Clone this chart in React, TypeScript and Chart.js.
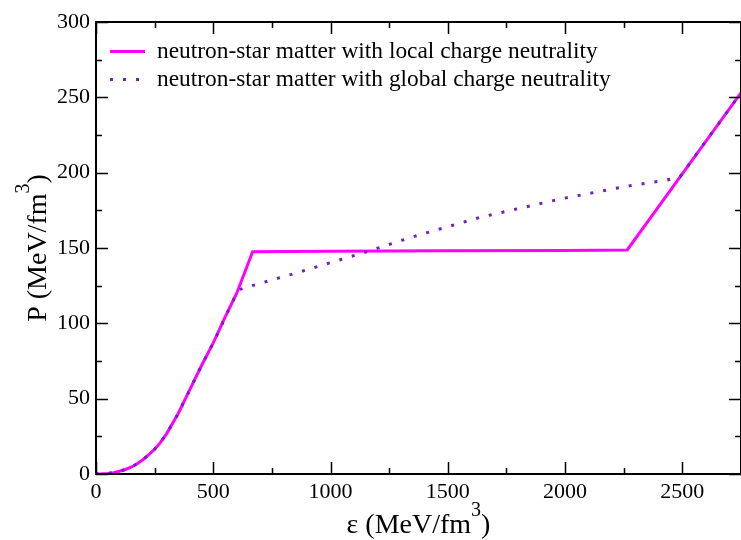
import React, { useEffect, useRef } from "react";
import { Chart, registerables } from "chart.js";

Chart.register(...registerables);

// Local charge neutrality (energy density eps in MeV/fm^3, pressure P in MeV/fm^3)
const localEps = [0, 25, 50, 75, 100, 125, 150, 175, 200, 225, 250, 275, 300, 350, 400, 450, 500, 550, 600, 668, 1000, 1500, 2000, 2265, 2750];
const localP = [0, 0.1, 0.4, 0.9, 1.8, 3, 4.5, 6.8, 9.5, 12.8, 16.5, 21, 26.5, 40, 56, 72, 87, 104, 120, 147.5, 147.8, 148.1, 148.4, 148.7, 253];

// Global charge neutrality
const globalEps = [0, 25, 50, 75, 100, 125, 150, 175, 200, 225, 250, 275, 300, 350, 400, 450, 500, 550, 600, 615, 643, 867, 1143, 1363, 1639, 1979, 2262, 2432, 2490, 2750];
const globalP = [0, 0.1, 0.4, 0.9, 1.8, 3, 4.5, 6.8, 9.5, 12.8, 16.5, 21, 26.5, 40, 56, 72, 87, 104, 120, 122.5, 124, 134, 147, 158, 170.4, 182.5, 191, 195, 197.3, 253];

const seriesLabels = [
  "neutron-star matter with local charge neutrality",
  "neutron-star matter with global charge neutrality",
];
const seriesColors = ["#ff00ff", "#7221bc"];

const xMax = 2750;
const yMax = 300;
const xTickValues = [0, 500, 1000, 1500, 2000, 2500];
const yTickValues = [0, 50, 100, 150, 200, 250, 300];
const xMinorStep = 250;
const xMajorStep = 500;
const yMinorStep = 25;
const yMajorStep = 50;

const FONT = "'Liberation Serif', 'DejaVu Serif', serif";

const framePlugin = {
  id: "frame",
  afterDraw(chart: any) {
    const { ctx, chartArea } = chart;
    const { left, right, top, bottom } = chartArea;
    const xs = chart.scales.x;
    const ys = chart.scales.y;
    ctx.save();
    ctx.strokeStyle = "#000";
    ctx.lineWidth = 2;
    ctx.strokeRect(left, top, right - left, bottom - top);
    ctx.lineWidth = 1.5;
    ctx.beginPath();
    for (let v = 0; v <= xMax + 1e-6; v += xMinorStep) {
      const px = Math.round(xs.getPixelForValue(v)) + 0.5;
      const len = v % xMajorStep === 0 ? 12 : 6;
      ctx.moveTo(px, bottom);
      ctx.lineTo(px, bottom - len);
      ctx.moveTo(px, top);
      ctx.lineTo(px, top + len);
    }
    for (let v = 0; v <= yMax + 1e-6; v += yMinorStep) {
      const py = Math.round(ys.getPixelForValue(v)) + 0.5;
      const len = v % yMajorStep === 0 ? 12 : 6;
      ctx.moveTo(left, py);
      ctx.lineTo(left + len, py);
      ctx.moveTo(right, py);
      ctx.lineTo(right - len, py);
    }
    ctx.stroke();

    // legend
    const rows = [51.5, 79.5];
    chart.data.datasets.forEach((ds: any, i: number) => {
      const y = rows[i];
      ctx.strokeStyle = ds.borderColor;
      ctx.lineWidth = 3;
      ctx.setLineDash(ds.borderDash || []);
      ctx.beginPath();
      ctx.moveTo(110, y);
      ctx.lineTo(145, y);
      ctx.stroke();
      ctx.setLineDash([]);
      ctx.fillStyle = "#000";
      ctx.font = `23.4px ${FONT}`;
      ctx.textBaseline = "middle";
      ctx.textAlign = "left";
      ctx.fillText(ds.label, 157, y);
    });

    // axis titles with superscripts
    const drawTitle = (main: string, sup: string, tail: string, size: number) => {
      const supSize = Math.round(size * 0.72);
      ctx.font = `${size}px ${FONT}`;
      const w1 = ctx.measureText(main).width;
      ctx.font = `${supSize}px ${FONT}`;
      const w2 = ctx.measureText(sup).width;
      ctx.font = `${size}px ${FONT}`;
      const w3 = ctx.measureText(tail).width;
      const total = w1 + w2 + w3;
      let x = -total / 2;
      ctx.textAlign = "left";
      ctx.textBaseline = "alphabetic";
      ctx.fillText(main, x, 0);
      x += w1;
      ctx.font = `${supSize}px ${FONT}`;
      ctx.fillText(sup, x, -size * 0.6);
      x += w2;
      ctx.font = `${size}px ${FONT}`;
      ctx.fillText(tail, x, 0);
    };
    ctx.fillStyle = "#000";
    ctx.save();
    ctx.translate((left + right) / 2, 533);
    drawTitle("\u03b5 (MeV/fm", "3", ")", 28);
    ctx.restore();
    ctx.save();
    ctx.translate(46, (top + bottom) / 2);
    ctx.rotate(-Math.PI / 2);
    drawTitle("P (MeV/fm", "3", ")", 28);
    ctx.restore();
    ctx.restore();
  },
};

export default function App() {
  const ref = useRef<HTMLCanvasElement | null>(null);
  useEffect(() => {
    document.body.style.margin = "0";
    const canvas = ref.current;
    if (!canvas) return;
    const chart = new Chart(canvas, {
      type: "line",
      data: {
        datasets: [
          {
            label: seriesLabels[0],
            data: localEps.map((x, i) => ({ x, y: localP[i] })),
            borderColor: seriesColors[0],
            borderWidth: 3,
            pointRadius: 0,
            tension: 0,
            fill: false,
            order: 2,
          },
          {
            label: seriesLabels[1],
            data: globalEps.map((x, i) => ({ x, y: globalP[i] })),
            borderColor: seriesColors[1],
            borderWidth: 3,
            borderDash: [3, 10],
            borderCapStyle: "butt",
            pointRadius: 0,
            tension: 0,
            fill: false,
            order: 1,
          },
        ],
      },
      options: {
        responsive: false,
        animation: false,
        devicePixelRatio: 1,
        layout: { padding: { left: 0, right: -2, top: 22, bottom: 0 } },
        plugins: { legend: { display: false }, tooltip: { enabled: false } },
        scales: {
          x: {
            type: "linear",
            min: 0,
            max: xMax,
            grid: { display: false, drawTicks: false },
            border: { display: false },
            afterBuildTicks: (s: any) => {
              s.ticks = xTickValues.map((value) => ({ value }));
            },
            ticks: {
              padding: 5,
              color: "#000",
              font: { family: FONT, size: 22 },
              maxRotation: 0,
              autoSkip: false,
              callback: (v: any) => String(v),
            },
            afterFit: (s: any) => {
              s.height = 66;
            },
          },
          y: {
            type: "linear",
            min: 0,
            max: yMax,
            grid: { display: false, drawTicks: false },
            border: { display: false },
            afterBuildTicks: (s: any) => {
              s.ticks = yTickValues.map((value) => ({ value }));
            },
            ticks: {
              padding: 6,
              color: "#000",
              font: { family: FONT, size: 22 },
              autoSkip: false,
              callback: (v: any) => String(v),
            },
            afterFit: (s: any) => {
              s.width = 96;
            },
          },
        },
      },
      plugins: [framePlugin],
    });
    return () => chart.destroy();
  }, []);
  return (
    <div style={{ width: 741, height: 540 }}>
      <canvas ref={ref} width={741} height={540} style={{ display: "block" }} />
    </div>
  );
}
